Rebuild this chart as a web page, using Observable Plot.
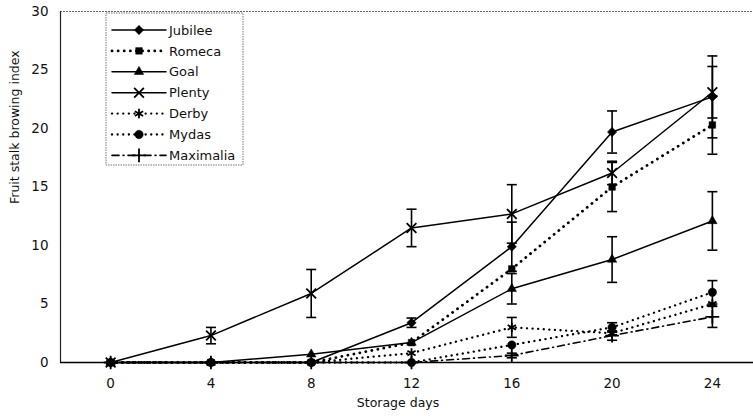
<!DOCTYPE html>
<html><head><meta charset="utf-8">
<script src="https://cdn.jsdelivr.net/npm/d3@7"></script>
<script src="https://cdn.jsdelivr.net/npm/@observablehq/plot@0.6"></script>
<style>body{margin:0;background:#fff} svg{display:block}</style>
</head><body><div id="chart"></div>
<script>
const days = [0, 4, 8, 12, 16, 20, 24];
const seriesNames = ["Jubilee", "Romeca", "Goal", "Plenty", "Derby", "Mydas", "Maximalia"];
const jubilee   = [0, 0, 0, 3.4, 9.9, 19.7, 22.7];
const romeca    = [0, 0, 0, 1.7, 8.0, 15.0, 20.3];
const goal      = [0, 0, 0.7, 1.7, 6.3, 8.8, 12.1];
const plenty    = [0, 2.3, 5.9, 11.5, 12.7, 16.2, 23.1];
const derby     = [0, 0, 0, 0.8, 3.0, 2.5, 5.0];
const mydas     = [0, 0, 0, 0, 1.5, 3.0, 6.0];
const maximalia = [0, 0, 0, 0, 0.6, 2.3, 3.9];
const jubileeErr   = [0, 0, 0, 0.4, 2.1, 1.8, 3.5];
const romecaErr    = [0, 0, 0, 0, 0, 2.1, 2.5];
const goalErr      = [0, 0, 0, 0, 1.3, 1.95, 2.5];
const plentyErr    = [0, 0.7, 2.05, 1.6, 2.5, 1.0, 2.2];
const derbyErr     = [0, 0, 0, 0, 0.85, 0, 0];
const mydasErr     = [0, 0, 0, 0, 0, 0.4, 1.0];
const maximaliaErr = [0, 0, 0, 0, 0.2, 0.4, 0.9];
const yTicks = [0, 5, 10, 15, 20, 25, 30];

const styles = {
  Jubilee:   {values: jubilee, err: jubileeErr, symbol: "diamond2", d3sym: d3.symbolDiamond2, filled: true, dash: null, sw: 1.5, r: 4.2},
  Romeca:    {values: romeca, err: romecaErr, symbol: "square2", d3sym: d3.symbolSquare2, filled: true, dash: "0.1,6", sw: 2.8, r: 4.2},
  Goal:      {values: goal, err: goalErr, symbol: "triangle2", d3sym: d3.symbolTriangle2, filled: true, dash: null, sw: 1.5, r: 4.5},
  Plenty:    {values: plenty, err: plentyErr, symbol: "times", d3sym: d3.symbolTimes, filled: false, dash: null, sw: 1.5, r: 4.5},
  Derby:     {values: derby, err: derbyErr, symbol: "asterisk", d3sym: d3.symbolAsterisk, filled: false, dash: "0.1,5.5", sw: 2.3, r: 4.5},
  Mydas:     {values: mydas, err: mydasErr, symbol: "circle", d3sym: d3.symbolCircle, filled: true, dash: "0.1,5.5", sw: 2.3, r: 4.2},
  Maximalia: {values: maximalia, err: maximaliaErr, symbol: "plus", d3sym: d3.symbolPlus, filled: false, dash: "7,4,1,4", sw: 1.6, r: 4.5}
};

const rows = seriesNames.flatMap(name => days.map((d, i) => ({
  series: name, day: d, value: styles[name].values[i], err: styles[name].err[i]
})));
const errRows = rows.filter(d => d.err > 0);

const FONT = "DejaVu Sans, Liberation Sans, Arial, sans-serif";
const marks = [
  Plot.ruleY([30], {stroke: "#666", strokeWidth: 1.2, strokeDasharray: "2,1"}),
  Plot.ruleX([-2], {y1: 0, y2: 30, stroke: "#222", strokeWidth: 1.2}),
  Plot.ruleY([0], {stroke: "#000", strokeWidth: 1.6})
];
for (const name of seriesNames) {
  const s = styles[name];
  marks.push(Plot.line(rows.filter(d => d.series === name), {
    x: "day", y: "value", stroke: "#000", strokeWidth: s.sw,
    strokeDasharray: s.dash, strokeLinecap: "round"
  }));
}
marks.push(Plot.ruleX(errRows, {x: "day", y1: d => d.value - d.err, y2: d => d.value + d.err, stroke: "#000", strokeWidth: 1.6}));
marks.push(Plot.link(errRows, {x1: d => d.day - 0.2, x2: d => d.day + 0.2, y1: d => d.value + d.err, y2: d => d.value + d.err, stroke: "#000", strokeWidth: 1.6}));
marks.push(Plot.link(errRows, {x1: d => d.day - 0.2, x2: d => d.day + 0.2, y1: d => d.value - d.err, y2: d => d.value - d.err, stroke: "#000", strokeWidth: 1.6}));
for (const name of seriesNames) {
  const s = styles[name];
  marks.push(Plot.dot(rows.filter(d => d.series === name), {
    x: "day", y: "value", symbol: () => s.symbol, r: s.r,
    fill: s.filled ? "#000" : "none", stroke: "#000", strokeWidth: s.filled ? 0.5 : 1.8
  }));
}
marks.push(Plot.text(["Storage days"], {frameAnchor: "bottom", dy: 44, dx: -9, fontSize: 12.5, fill: "#111"}));
marks.push(Plot.text(["Fruit stalk browing index"], {frameAnchor: "left", rotate: -90, dx: -46, dy: 17, fontSize: 12.5, fill: "#111"}));

const svg = Plot.plot({
  width: 753, height: 416,
  marginLeft: 60, marginRight: 0, marginTop: 11, marginBottom: 54,
  style: {fontFamily: FONT, fontSize: "13.5px", color: "#111", background: "#fff"},
  x: {domain: [-2, 25.64], ticks: days, tickSize: 0, tickPadding: 16, label: null},
  y: {domain: [0, 30], ticks: yTicks, tickSize: 0, tickPadding: 12, label: null},
  symbol: {type: "identity"},
  marks
});

// Legend box inside plot area
const g = d3.select(svg).append("g").attr("font-family", FONT).attr("font-size", 13).attr("text-anchor", "start");
g.append("rect").attr("x", 106).attr("y", 13).attr("width", 137).attr("height", 152)
  .attr("fill", "#fff").attr("stroke", "#777").attr("stroke-dasharray", "1.5,1").attr("stroke-width", 1);
seriesNames.forEach((name, i) => {
  const s = styles[name];
  const y = 30 + i * 20.9;
  g.append("line").attr("x1", 112).attr("x2", 166).attr("y1", y).attr("y2", y)
    .attr("stroke", "#000").attr("stroke-width", s.sw)
    .attr("stroke-dasharray", s.dash).attr("stroke-linecap", "round");
  g.append("path").attr("transform", `translate(139,${y})`)
    .attr("d", d3.symbol(s.d3sym, Math.PI * s.r * s.r)())
    .attr("fill", s.filled ? "#000" : "none").attr("stroke", "#000")
    .attr("stroke-width", s.filled ? 0.5 : 1.8);
  g.append("text").attr("x", 169).attr("y", y).attr("dy", "0.36em").attr("fill", "#111")
    .attr("text-anchor", "start").text(name);
});

document.getElementById("chart").appendChild(svg);
</script>
</body></html>
